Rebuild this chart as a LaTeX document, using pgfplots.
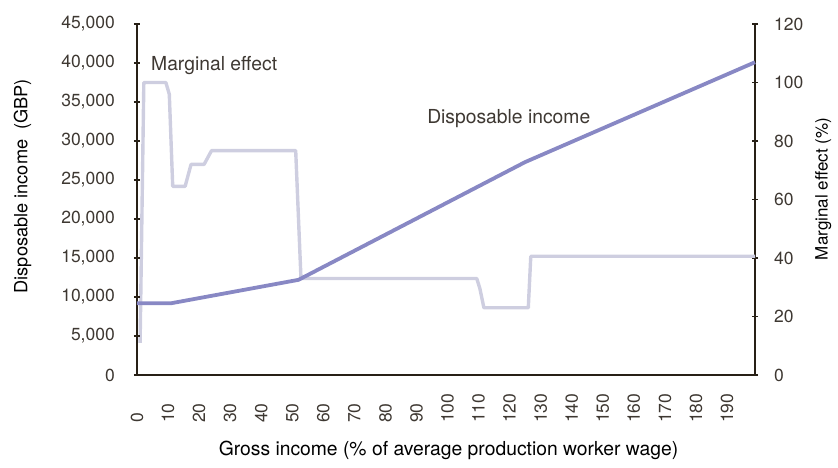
\documentclass[border=0pt]{standalone}
\usepackage{fontspec}
\setmainfont{TeX Gyre Heros}
\usepackage{pgfplots}
\pgfplotsset{compat=1.18}
\definecolor{dispcol}{RGB}{136,136,196}
\definecolor{margcol}{RGB}{206,206,224}
\definecolor{axcol}{RGB}{40,32,22}
\definecolor{txtcol}{RGB}{62,56,50}
\pgfplotsset{
  common/.style={
    scale only axis, width=618pt, height=351pt,
    at={(0pt,0pt)}, anchor=south west,
    xmin=0, xmax=199,
    font=\fontsize{19.3}{22}\selectfont,
    every tick label/.append style={text=txtcol, font=\fontsize{17.5}{20}\selectfont},
    label style={text=txtcol},
    axis line style={-, draw=axcol, line width=1.6pt},
    tick align=center, major tick length=6pt,
    every tick/.append style={draw=axcol, line width=1.2pt},
    /pgf/number format/assume math mode=true,
    /pgf/number format/1000 sep={,},
    scaled ticks=false,
    clip=false,
  }
}
\begin{document}
\begin{tikzpicture}
\useasboundingbox (-137pt,-92pt) rectangle (701pt,375pt);
% right axis: marginal effect
\begin{axis}[common,
  ymin=0, ymax=120,
  axis x line=none,
  axis y line*=right,
  ytick={0,20,...,120},
  yticklabel style={anchor=west, inner sep=0pt},
  yticklabel shift=16pt,
  ylabel={Marginal effect (\%)},
  every axis y label/.style={at={(axis description cs:1.1105,0.530)}, rotate=90, anchor=center, font=\fontsize{17}{20}\selectfont},
]
\addplot[margcol, line width=3.4pt, line join=round] coordinates {
(1,11) (2.2,100) (9.3,100) (10.4,96) (11.5,64.5) (15.5,64.5) (17.4,72) (21.6,72) (24,76.7)
(51.1,76.7) (52.8,33) (109.4,33) (110.4,29.6) (111.7,23) (126,23) (126.8,40.6) (199,40.6)
};
\end{axis}
% left axis: disposable income
\begin{axis}[common,
  ymin=0, ymax=45000,
  axis x line*=bottom,
  axis y line*=left,
  ytick={0,5000,...,45000},
  yticklabel style={anchor=east, inner sep=0pt},
  yticklabel shift=19pt,
  xtick={0,10,...,190},
  major x tick style=transparent,
  xticklabel style={rotate=90, anchor=west, inner sep=0pt},
  xticklabel shift=45pt,
  xlabel={Gross income (\% of average production worker wage)},
  every axis x label/.style={at={(axis description cs:0.504,-0.214)}, anchor=center},
  ylabel={Disposable income\ \ (GBP)},
  every axis y label/.style={at={(axis description cs:-0.185,0.538)}, rotate=90, anchor=center, font=\fontsize{18.2}{21}\selectfont},
]
\addplot[dispcol, line width=3.8pt, line join=round] coordinates {
(0,9200) (11,9200) (52,12200) (125,27300) (199,40100)
};
\node[anchor=west, text=txtcol, inner sep=0pt] at (axis cs:4.5,39700) {Marginal effect};
\node[anchor=west, text=txtcol, inner sep=0pt] at (axis cs:93.4,32900) {Disposable income};
\end{axis}
\end{tikzpicture}
\end{document}
